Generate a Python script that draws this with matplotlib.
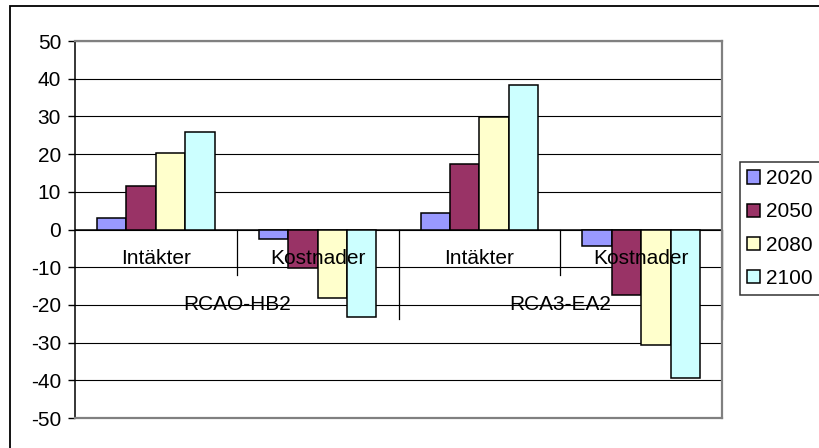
import numpy as np
import matplotlib
matplotlib.use("Agg")
import matplotlib.pyplot as plt
from matplotlib.patches import Rectangle

plt.rcParams['font.family'] = ['Liberation Sans', 'DejaVu Sans']
plt.rcParams['axes.unicode_minus'] = False

# data
groups = ['RCAO-HB2', 'RCA3-EA2']
categories = ['Intäkter', 'Kostnader', 'Intäkter', 'Kostnader']
years = ['2020', '2050', '2080', '2100']
v2020 = [3.0, -2.5, 4.5, -4.4]
v2050 = [11.6, -10.3, 17.4, -17.3]
v2080 = [20.3, -18.1, 29.8, -30.7]
v2100 = [25.9, -23.3, 38.4, -39.3]
colors = ['#9999FF', '#993366', '#FFFFCC', '#CCFFFF']

series = [v2020, v2050, v2080, v2100]
FS = 15

fig = plt.figure(figsize=(8.19, 4.48), dpi=100)
W, H = 819, 448
ax = fig.add_axes([75 / W, 1 - 418 / H, (722 - 75) / W, (418 - 41) / H])

# outer chart border (only left/top visible in the original)
fig.patches.append(Rectangle((10 / W, -0.1), 1.2, 1 - 6 / H + 0.1,
                             transform=fig.transFigure, fill=False,
                             edgecolor='black', linewidth=1.3))

x = np.arange(len(categories))
w = 1 / 5.5
for i, (vals, c, yr) in enumerate(zip(series, colors, years)):
    ax.bar(x + (i - 1.5) * w, vals, width=w, color=c, edgecolor='black',
           linewidth=1.1, label=yr, zorder=3)

ax.set_xlim(-0.5, 3.5)
ax.set_ylim(-50, 50)
ax.set_yticks(range(-50, 51, 10))
ax.set_xticks([])
ax.yaxis.grid(True, color='black', linewidth=0.8, zorder=0)
ax.set_axisbelow(True)
ax.tick_params(axis='y', length=5, width=1, pad=5, labelsize=FS, color='black')

for s in ['top', 'right', 'bottom']:
    ax.spines[s].set_color('#808080')
    ax.spines[s].set_linewidth(1.6)
ax.spines['left'].set_color('black')
ax.spines['left'].set_linewidth(1.1)

# category axis at zero
ax.axhline(0, color='black', linewidth=1.1, zorder=2)
for b in [0.5, 2.5]:
    ax.plot([b, b], [0, -12.1], color='black', linewidth=0.9, zorder=2)
for b in [1.5, 3.5]:
    ax.plot([b, b], [0, -23.8], color='black', linewidth=0.9, zorder=2, clip_on=False)

for xi, cat in zip(x, categories):
    ax.text(xi, -7.6, cat, ha='center', va='center', fontsize=FS, zorder=5)
for gi, g in enumerate(groups):
    ax.text(2 * gi + 0.5, -19.8, g, ha='center', va='center', fontsize=FS, zorder=5)

leg = fig.legend(loc='upper left', bbox_to_anchor=(740 / W, 1 - 162 / H),
                 fontsize=FS, frameon=True, fancybox=False, edgecolor='black',
                 handlelength=0.6, handleheight=0.6, handletextpad=0.3,
                 labelspacing=0.68, borderpad=0.35, borderaxespad=0)
leg.get_frame().set_linewidth(1.1)

fig.savefig('out.png', dpi=100)
